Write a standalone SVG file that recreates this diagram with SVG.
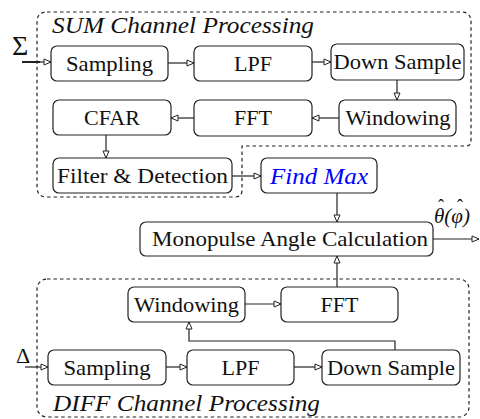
<svg xmlns="http://www.w3.org/2000/svg" width="480" height="419" viewBox="0 0 480 419">
<style>
.box{fill:#fff;stroke:#222;stroke-width:1.2}
.t{font-family:"Liberation Serif","Times New Roman",serif;font-size:22px;fill:#111;text-anchor:middle}
.it{font-family:"Liberation Serif","Times New Roman",serif;font-style:italic;font-size:23px;fill:#111}
.m{font-family:"Liberation Serif","Times New Roman",serif;fill:#111}
.reg{fill:none;stroke:#222;stroke-width:1.2;stroke-dasharray:3.5,3}
.c{fill:none;stroke:#222;stroke-width:1.2;marker-end:url(#ah)}
</style>
<defs>
<marker id="ah" markerUnits="userSpaceOnUse" markerWidth="10" markerHeight="10" refX="8" refY="4" orient="auto">
<path d="M1,1 L8,4 L1,7 Z" fill="#fff" stroke="#222" stroke-width="1"/>
</marker>
</defs>
<g id="regions">
<path class="reg" d="M47,12 H461 Q471,12 471,22 V141 Q471,146 466,146 H242 V190 Q242,197 235,197 H47 Q37,197 37,187 V22 Q37,12 47,12 Z"/>
<rect class="reg" x="37" y="279" width="432" height="138" rx="10"/>
<text class="it" x="52" y="33" textLength="262" lengthAdjust="spacingAndGlyphs">SUM Channel Processing</text>
<text class="it" x="53" y="411" textLength="267" lengthAdjust="spacingAndGlyphs">DIFF Channel Processing</text>
</g>
<g id="connectors">
<path d="M22,62 H40" fill="none" stroke="#222" stroke-width="2"/>
<path class="c" d="M38,62 H51"/>
<path class="c" d="M168,63 H194"/>
<path class="c" d="M312,62 H331"/>
<path class="c" d="M397,80 V100"/>
<path class="c" d="M339,118 H312"/>
<path class="c" d="M194,118 H171"/>
<path class="c" d="M106,135 V158"/>
<path class="c" d="M232,176 H261"/>
<path class="c" d="M337,193 V222"/>
<path class="c" d="M433,239 H479"/>
<path class="c" d="M337,287 V256"/>
<path class="c" d="M245,304 H281"/>
<path class="c" d="M25,367 H48"/>
<path class="c" d="M166,367 H187"/>
<path class="c" d="M294,367 H322"/>
<path class="c" d="M395,350 V341 H189 V322"/>
</g>
<g id="sum-sampling"><rect class="box" x="51" y="46" width="117" height="35" rx="6"/><text class="t" x="109.5" y="71" textLength="87" lengthAdjust="spacingAndGlyphs">Sampling</text></g>
<g id="sum-lpf"><rect class="box" x="194" y="46" width="118" height="35" rx="6"/><text class="t" x="253" y="71">LPF</text></g>
<g id="sum-downsample"><rect class="box" x="331" y="44" width="133" height="36" rx="6"/><text class="t" x="397.5" y="69" textLength="128" lengthAdjust="spacingAndGlyphs">Down Sample</text></g>
<g id="sum-windowing"><rect class="box" x="339" y="100" width="117" height="36" rx="6"/><text class="t" x="398" y="125" textLength="105" lengthAdjust="spacingAndGlyphs">Windowing</text></g>
<g id="sum-fft"><rect class="box" x="194" y="100" width="118" height="36" rx="6"/><text class="t" x="253" y="125">FFT</text></g>
<g id="sum-cfar"><rect class="box" x="53" y="100" width="118" height="35" rx="6"/><text class="t" x="112" y="125">CFAR</text></g>
<g id="sum-filter"><rect class="box" x="53" y="158" width="179" height="35" rx="6"/><text class="t" x="142.5" y="183" textLength="171" lengthAdjust="spacingAndGlyphs">Filter &amp; Detection</text></g>
<g id="findmax"><rect class="box" x="261" y="158" width="116" height="35" rx="6"/><text class="it" x="319" y="184" text-anchor="middle" style="fill:#0000ff" textLength="98" lengthAdjust="spacingAndGlyphs">Find Max</text></g>
<g id="monopulse"><rect class="box" x="140" y="222" width="293" height="34" rx="6"/><text class="t" x="290" y="246" textLength="276" lengthAdjust="spacingAndGlyphs">Monopulse Angle Calculation</text></g>
<g id="diff-windowing"><rect class="box" x="128" y="287" width="117" height="35" rx="6"/><text class="t" x="186.5" y="312" textLength="105" lengthAdjust="spacingAndGlyphs">Windowing</text></g>
<g id="diff-fft"><rect class="box" x="281" y="287" width="117" height="35" rx="6"/><text class="t" x="339.5" y="312">FFT</text></g>
<g id="diff-sampling"><rect class="box" x="48" y="350" width="118" height="35" rx="6"/><text class="t" x="107" y="375" textLength="87" lengthAdjust="spacingAndGlyphs">Sampling</text></g>
<g id="diff-lpf"><rect class="box" x="187" y="350" width="107" height="35" rx="6"/><text class="t" x="240.5" y="375">LPF</text></g>
<g id="diff-downsample"><rect class="box" x="322" y="350" width="138" height="35" rx="6"/><text class="t" x="391" y="375" textLength="128" lengthAdjust="spacingAndGlyphs">Down Sample</text></g>
<g id="labels">
<text class="m" x="12" y="55" font-size="28">Σ</text>
<text class="m" x="16" y="363" font-size="22">Δ</text>
<text class="m" font-size="21" font-style="italic"><tspan x="434" y="223">θ(φ)</tspan><tspan x="438" y="212" font-size="18" font-style="normal">ˆ</tspan><tspan x="457" y="212" font-size="18" font-style="normal">ˆ</tspan></text>
</g>
</svg>
